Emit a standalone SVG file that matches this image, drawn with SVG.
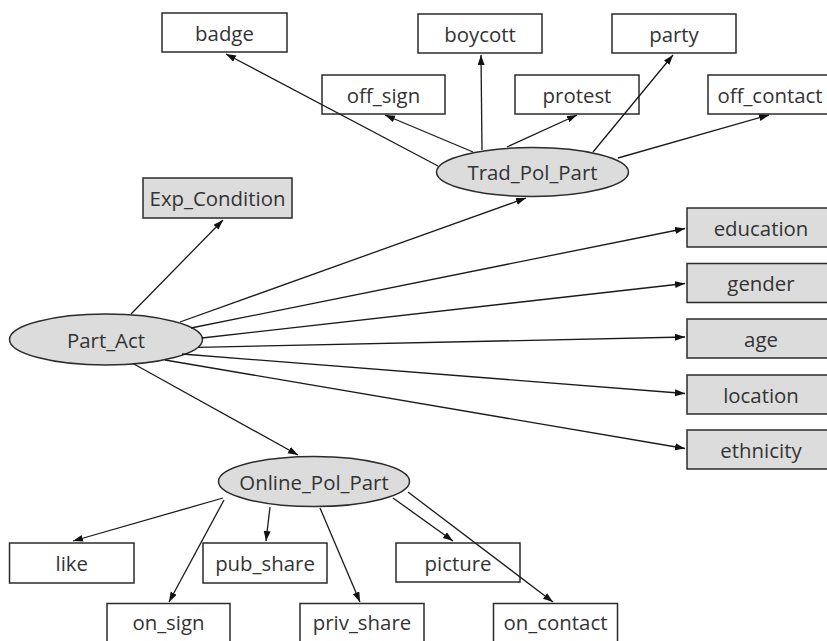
<svg xmlns="http://www.w3.org/2000/svg" width="827" height="641" viewBox="0 0 827 641">
<style>
.box{fill:#ffffff;stroke:#2b2b2b;stroke-width:1.5}
.gray{fill:#dcdcdc;stroke:#2b2b2b;stroke-width:1.5}
.ell{fill:#dcdcdc;stroke:#2b2b2b;stroke-width:1.5}
text{font-family:"Open Sans","Noto Sans","DejaVu Sans",sans-serif;font-size:20.4px;fill:#333333;text-anchor:middle;dominant-baseline:central}
.edge{stroke:#1a1a1a;stroke-width:1.3;fill:none;marker-end:url(#arr)}
</style>
<defs>
<marker id="arr" markerUnits="userSpaceOnUse" markerWidth="11" markerHeight="8" refX="10" refY="3.5" orient="auto">
<path d="M0,0 L10,3.5 L0,7 z" fill="#111111"/>
</marker>
</defs>
<rect width="827" height="641" fill="#ffffff"/>
<g id="badge"><rect class="box" x="162" y="13" width="125" height="39"/><text x="224.5" y="32.5">badge</text></g>
<g id="boycott"><rect class="box" x="418" y="14" width="124" height="39"/><text x="480" y="33.5">boycott</text></g>
<g id="party"><rect class="box" x="612" y="14" width="124" height="39"/><text x="674" y="33.5">party</text></g>
<g id="off_sign"><rect class="box" x="322" y="75" width="123" height="39"/><text x="383.5" y="94.5">off_sign</text></g>
<g id="protest"><rect class="box" x="515" y="75" width="124" height="39"/><text x="577" y="94.5">protest</text></g>
<g id="off_contact"><rect class="box" x="708" y="75" width="124" height="39"/><text x="770" y="94.5">off_contact</text></g>
<g id="Trad_Pol_Part"><ellipse class="ell" cx="532.5" cy="172" rx="96" ry="24.5"/><text x="532.5" y="172">Trad_Pol_Part</text></g>
<g id="Exp_Condition"><rect class="gray" x="143" y="178" width="149" height="40"/><text x="217.5" y="198">Exp_Condition</text></g>
<g id="Part_Act"><ellipse class="ell" cx="106" cy="339.5" rx="96.5" ry="25.5"/><text x="106" y="339.5">Part_Act</text></g>
<g id="education"><rect class="gray" x="687" y="208" width="149" height="39"/><text x="761" y="227.5">education</text></g>
<g id="gender"><rect class="gray" x="687" y="263.5" width="149" height="39"/><text x="761" y="283">gender</text></g>
<g id="age"><rect class="gray" x="687" y="319" width="149" height="39"/><text x="761" y="338.5">age</text></g>
<g id="location"><rect class="gray" x="687" y="375" width="149" height="39"/><text x="761" y="394.5">location</text></g>
<g id="ethnicity"><rect class="gray" x="687" y="430" width="149" height="39"/><text x="761" y="449.5">ethnicity</text></g>
<g id="Online_Pol_Part"><ellipse class="ell" cx="314" cy="481.5" rx="95.5" ry="25"/><text x="314" y="481.5">Online_Pol_Part</text></g>
<g id="like"><rect class="box" x="9.5" y="543" width="124.5" height="40"/><text x="71.75" y="563">like</text></g>
<g id="pub_share"><rect class="box" x="203" y="543" width="124" height="40"/><text x="265" y="563">pub_share</text></g>
<g id="picture"><rect class="box" x="396" y="543" width="124" height="39"/><text x="458" y="562.5">picture</text></g>
<g id="on_sign"><rect class="box" x="107" y="603.5" width="123" height="40"/><text x="168.5" y="621.5">on_sign</text></g>
<g id="priv_share"><rect class="box" x="300" y="603.5" width="124" height="40"/><text x="362" y="621.5">priv_share</text></g>
<g id="on_contact"><rect class="box" x="493.5" y="603.5" width="124" height="40"/><text x="555.5" y="621.5">on_contact</text></g>
<g id="connectors">
<line class="edge" x1="438" y1="166" x2="226" y2="54"/>
<line class="edge" x1="473" y1="152" x2="385" y2="115"/>
<line class="edge" x1="482" y1="150" x2="481" y2="55"/>
<line class="edge" x1="507" y1="147" x2="577" y2="115"/>
<line class="edge" x1="593" y1="152" x2="673" y2="55"/>
<line class="edge" x1="618" y1="158" x2="769" y2="115"/>
<line class="edge" x1="131" y1="314" x2="223" y2="220"/>
<line class="edge" x1="180" y1="322" x2="526" y2="198"/>
<line class="edge" x1="191" y1="328" x2="685" y2="228.5"/>
<line class="edge" x1="202" y1="338" x2="685" y2="283.5"/>
<line class="edge" x1="198" y1="347.4" x2="685" y2="337"/>
<line class="edge" x1="182" y1="354" x2="685" y2="393.5"/>
<line class="edge" x1="165" y1="360" x2="685" y2="448.5"/>
<line class="edge" x1="133" y1="363.5" x2="298" y2="455"/>
<line class="edge" x1="223" y1="498" x2="73" y2="541"/>
<line class="edge" x1="224" y1="500" x2="169" y2="602"/>
<line class="edge" x1="270" y1="507" x2="266" y2="541"/>
<line class="edge" x1="320" y1="508" x2="360" y2="602"/>
<line class="edge" x1="393" y1="498" x2="453" y2="541"/>
<line class="edge" x1="408" y1="492" x2="553" y2="602"/>
</g>
</svg>
